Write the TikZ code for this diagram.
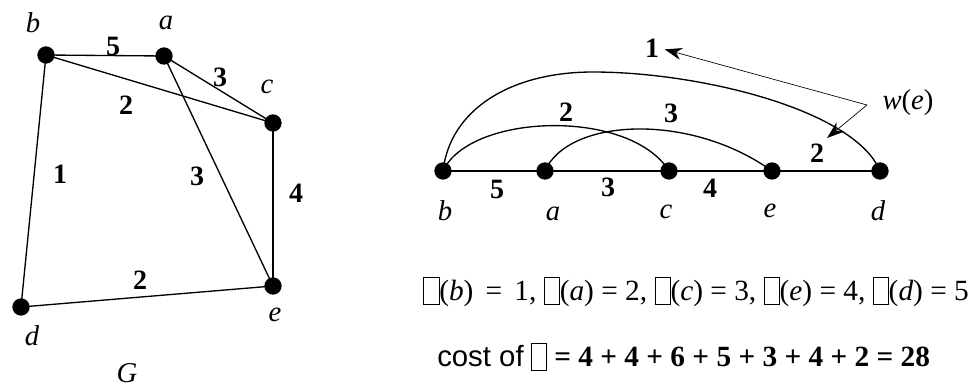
\documentclass[tikz,border=0pt]{standalone}
\usepackage{fontspec}
\setmainfont{Liberation Serif}
\newfontfamily\costfont{Liberation Sans}
\usetikzlibrary{arrows.meta}
% empty box standing for the missing glyph
\newcommand{\gapbox}{{\setlength{\fboxsep}{0pt}\setlength{\fboxrule}{0.5pt}\raisebox{-0.12em}{\fbox{\rule{0.5em}{0pt}\rule{0pt}{0.9em}}}}}

\begin{document}
\begin{tikzpicture}[x=0.75pt, y=-0.75pt, >={Stealth[length=13pt,width=9pt]},
	vtx/.style={circle, fill=black, inner sep=0pt, minimum size=13pt},
	edge/.style={line width=1pt},
	lab/.style={font=\fontsize{21.5}{25}\selectfont\itshape, inner sep=0pt},
	wgt/.style={font=\fontsize{21}{25}\selectfont\bfseries, inner sep=0pt},
	txt/.style={font=\fontsize{22}{26}\selectfont, inner sep=0pt, anchor=west},
	note/.style={line width=0.5pt}]
	\useasboundingbox (0,0) rectangle (972,389);
	
	% ------------------ left: graph G ------------------
	\node[vtx] (gb) at (46,55) {};
	\node[vtx] (ga) at (164,56) {};
	\node[vtx] (gc) at (273,123) {};
	\node[vtx] (ge) at (273,286) {};
	\node[vtx] (gd) at (21,307) {};
	
	\node[lab] (gbl) at (33,23) {b};
	\node[lab] (gal) at (166,23) {a};
	\node[lab] (gcl) at (267,87) {c};
	\node[lab] (gel) at (275,315) {e};
	\node[lab] (gdl) at (32,336) {d};
	\node[lab] (gname) at (127,373) {G};
	
	\draw[edge] (gb.center) -- (ga.center);
	\draw[edge] (gb.center) -- (gc.center);
	\draw[edge] (ga.center) -- (gc.center);
	\draw[edge] (ga.center) -- (ge.center);
	\draw[edge] (gc.center) -- (ge.center);
	\draw[edge] (gb.center) -- (gd.center);
	\draw[edge] (gd.center) -- (ge.center);
	
	\node[wgt] (gw1) at (113,46) {5};
	\node[wgt] (gw2) at (220,77) {3};
	\node[wgt] (gw3) at (126,105) {2};
	\node[wgt] (gw4) at (60,174) {1};
	\node[wgt] (gw5) at (197,176) {3};
	\node[wgt] (gw6) at (296,193) {4};
	\node[wgt] (gw7) at (140,280) {2};
	
	% ------------------ right: linear layout ------------------
	\node[vtx] (lb) at (443,171) {};
	\node[vtx] (la) at (545,171) {};
	\node[vtx] (lc) at (669,171) {};
	\node[vtx] (le) at (772,171) {};
	\node[vtx] (ld) at (880,171) {};
	
	\node[lab] (lbl) at (445,211) {b};
	\node[lab] (lal) at (553,214) {a};
	\node[lab] (lcl) at (666,212) {c};
	\node[lab] (lel) at (770,211) {e};
	\node[lab] (ldl) at (878,211) {d};
	
	\draw[edge] (lb.center) -- (la.center) -- (lc.center) -- (le.center) -- (ld.center);
	% arcs
	\draw[edge] (lb.center) .. controls (450,110) and (510,72) .. (593,72)
		.. controls (700,72) and (855,110) .. (ld.center);
	\draw[edge] (lb.center) .. controls (470,113) and (630,108) .. (lc.center);
	\draw[edge] (la.center) .. controls (568,118) and (690,112) .. (le.center);
	
	\node[wgt] (lw1) at (497,189) {5};
	\node[wgt] (lw2) at (608,187) {3};
	\node[wgt] (lw3) at (710,188) {4};
	\node[wgt] (lw4) at (817,153) {2};
	\node[wgt] (lw5) at (566,112) {2};
	\node[wgt] (lw6) at (671,113) {3};
	\node[wgt] (lw7) at (652,48) {1};
	
	% w(e) pointers
	\node[lab, font=\fontsize{21.5}{25}\selectfont] (wlab) at (908,103) {\textit{w}(\textit{e})};
	\coordinate (wj) at (867,105);
	\coordinate (tip2) at (827,138);
	\draw[note, ->] (wj) -- ([xshift=4pt, yshift=-1pt]lw7.east);
	\draw[note, ->] (wj) -- (tip2);
	
	% ------------------ ordering and cost ------------------
	\node[txt] (order) at (423,292) {\gapbox(\textit{b}) \,=\, 1, \gapbox(\textit{a}) = 2, \gapbox(\textit{c}) = 3, \gapbox(\textit{e}) = 4, \gapbox(\textit{d}) = 5};
	\node[txt] (cost) at (437,357) {{\costfont cost of} \gapbox{} \textbf{= 4 + 4 + 6 + 5 + 3 + 4 + 2 = 28}};
\end{tikzpicture}
\end{document}
